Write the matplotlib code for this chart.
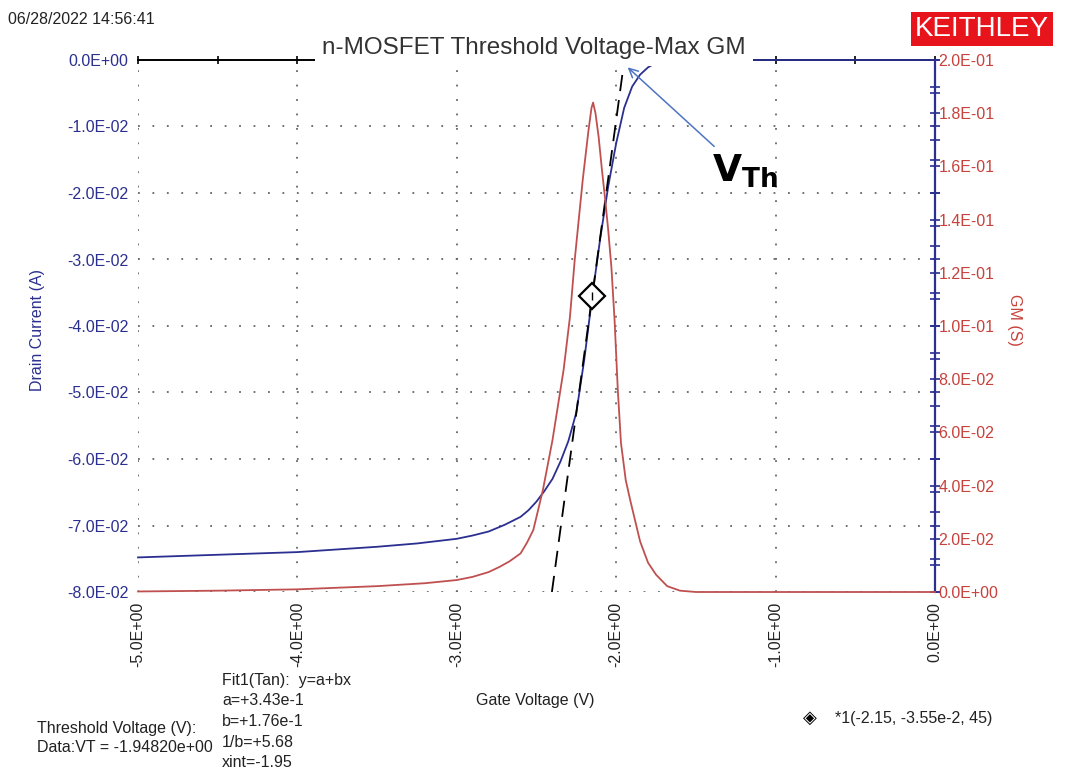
import matplotlib
matplotlib.use('Agg')
import matplotlib.pyplot as plt
from matplotlib.ticker import MultipleLocator, FuncFormatter

# ---------------- data ----------------
gate_v_id = [-5.0, -4.5, -4.0, -3.5, -3.25, -3.0, -2.9, -2.8, -2.7, -2.6, -2.55,
             -2.5, -2.45, -2.4, -2.35, -2.3, -2.25, -2.2, -2.15, -2.1, -2.05, -2.0,
             -1.95, -1.9, -1.85, -1.8, -1.75, -1.72, -1.65, -1.5, -1.0, -0.5, 0.0]
drain_i = [-0.0748, -0.0744, -0.0740, -0.0732, -0.0727, -0.0720, -0.0715, -0.0709,
           -0.0699, -0.0687, -0.0677, -0.0664, -0.0648, -0.0630, -0.0604, -0.0573,
           -0.0530, -0.0450, -0.0355, -0.0268, -0.0190, -0.0125, -0.0072, -0.0040,
           -0.0022, -0.0011, -0.0004, -0.0002, -0.0001, 0.0, 0.0, 0.0, 0.0]

gate_v_gm = [-5.0, -4.5, -4.0, -3.5, -3.2, -3.0, -2.9, -2.8, -2.73, -2.67, -2.6,
             -2.56, -2.52, -2.46, -2.4, -2.33, -2.29, -2.26, -2.21, -2.175, -2.155,
             -2.145, -2.13, -2.11, -2.09, -2.07, -2.05, -2.03, -2.01, -1.99, -1.97,
             -1.94, -1.91, -1.85, -1.80, -1.75, -1.68, -1.60, -1.50, -1.0, -0.5, 0.0]
gm = [0.0002, 0.0005, 0.0010, 0.0022, 0.0033, 0.0045, 0.0057, 0.0075, 0.0095, 0.0115,
      0.0145, 0.0185, 0.0233, 0.0383, 0.0570, 0.0835, 0.1035, 0.1250, 0.1549, 0.1730,
      0.1820, 0.1840, 0.1800, 0.1710, 0.1590, 0.1480, 0.1360, 0.1220, 0.1020, 0.0760,
      0.0560, 0.0420, 0.0340, 0.0190, 0.0110, 0.0065, 0.0022, 0.0005, 0.0, 0.0, 0.0,
      0.0]

fit_a = 0.343
fit_b = 0.176
marker_v = -2.15
marker_i = -0.0355
vt_value = -1.94820

title = "n-MOSFET Threshold Voltage-Max GM"
date_text = "06/28/2022 14:56:41"

# ---------------- style ----------------
plt.rcParams['font.family'] = ['Liberation Sans', 'DejaVu Sans']
plt.rcParams['mathtext.fontset'] = 'dejavusans'
BLUE = '#2b2f8f'
RED_LINE = '#c05050'
RED_TXT = '#c8413b'
GRID = '#666666'
TXT = '#222222'

W, H = 1065, 774
fig = plt.figure(figsize=(W / 100, H / 100), dpi=100)
ax = fig.add_axes([138 / W, 1 - 592 / H, (935 - 138) / W, (592 - 60) / H])
ax2 = ax.twinx()

ax.set_xlim(-5, 0)
ax.set_ylim(-0.08, 0)
ax2.set_ylim(0, 0.2)

def efmt(v, pos=None):
    v = v + 0.0
    if abs(v) < 1e-12:
        v = 0.0
    return '{:.1E}'.format(v)

# spines
for s in ['left', 'bottom', 'right']:
    ax.spines[s].set_visible(False)
ax.spines['top'].set_color('black')
ax.spines['top'].set_linewidth(1.4)
for s in ['left', 'bottom', 'top']:
    ax2.spines[s].set_visible(False)
ax2.spines['right'].set_color(BLUE)
ax2.spines['right'].set_linewidth(1.6)

# x axis ticks
ax.xaxis.set_major_locator(MultipleLocator(1.0))
ax.xaxis.set_minor_locator(MultipleLocator(0.5))
ax.xaxis.set_major_formatter(FuncFormatter(efmt))
ax.tick_params(axis='x', which='both', bottom=False, top=True, labelbottom=True,
               labeltop=False, direction='inout', length=6, width=1.2, color='black')
ax.tick_params(axis='x', which='major', labelsize=11.5, labelcolor=TXT, pad=4,
               labelrotation=90)

# left y axis
ax.yaxis.set_major_locator(MultipleLocator(0.01))
ax.yaxis.set_minor_locator(MultipleLocator(0.005))
ax.yaxis.set_major_formatter(FuncFormatter(efmt))
ax.tick_params(axis='y', which='both', left=False, right=True, labelleft=True,
               labelright=False, direction='inout', length=7, width=1.2, color=BLUE)
ax.tick_params(axis='y', which='major', labelsize=11.5, labelcolor=BLUE, pad=3.5)

# right y axis
ax2.yaxis.set_major_locator(MultipleLocator(0.02))
ax2.yaxis.set_minor_locator(MultipleLocator(0.01))
ax2.yaxis.set_major_formatter(FuncFormatter(efmt))
ax2.tick_params(axis='y', which='both', direction='inout', length=7, width=1.2,
                color=BLUE)
ax2.tick_params(axis='y', which='major', labelsize=11.5, labelcolor=RED_TXT, pad=-1)

# grid
ax.grid(True, which='major', linestyle=(0, (1, 7)), color=GRID, linewidth=1.3)

# curves
ax.plot(gate_v_id, drain_i, color=BLUE, lw=1.3, clip_on=False, zorder=3)
ax2.plot(gate_v_gm, gm, color=RED_LINE, lw=1.3, clip_on=False, zorder=3)

# tangent fit line
x0 = (-0.08 - fit_a) / fit_b
x1 = (0.0 - fit_a) / fit_b
ax.plot([x0, x1], [fit_a + fit_b * x0, fit_a + fit_b * x1], color='black',
        lw=1.3, linestyle=(0, (9, 5)), zorder=4)
ax.plot([marker_v], [marker_i], marker='D', markersize=13, markerfacecolor='white',
        markeredgecolor='black', markeredgewidth=1.6, zorder=6)
ax.plot([marker_v], [marker_i], marker='|', markersize=6, color='black',
        markeredgewidth=1.0, zorder=7)

# V_Th annotation
ax.annotate('', xy=(vt_value + 0.02, -0.0011), xytext=(-1.385, -0.0130),
            arrowprops=dict(arrowstyle='->', color='#4f74c4', lw=1.1,
                            mutation_scale=16, shrinkA=0, shrinkB=0), zorder=8)
ax.text(-1.40, -0.01835, r'$\mathbf{V_{Th}}$', fontsize=27, color='black',
        ha='left', va='baseline', zorder=8)

# labels
ax.set_ylabel('Drain Current (A)', color=BLUE, fontsize=11.5, labelpad=8)
ax.yaxis.set_label_coords((45 - 138) / (935 - 138), (592 - 330) / (592 - 60))
ax2.set_ylabel('GM (S)', color=RED_TXT, fontsize=11.5, rotation=270)
ax2.yaxis.set_label_coords((1022 - 138) / (935 - 138), (592 - 320) / (592 - 60))
fig.text(535 / W, 1 - 700 / H, 'Gate Voltage (V)', ha='center', va='center',
         fontsize=11.5, color=TXT)

# title covering top line
fig.text(534 / W, 1 - 48 / H, title, ha='center', va='center', fontsize=17.5,
         color='#333333', zorder=10,
         bbox=dict(facecolor='white', edgecolor='none', pad=5))

fig.text(8 / W, 1 - 20 / H, date_text, ha='left', va='center', fontsize=11.5,
         color=TXT)
fig.text(982 / W, 1 - 29 / H, 'KEITHLEY', ha='center', va='center', fontsize=20,
         color='white',
         bbox=dict(facecolor='#e8141c', edgecolor='none', boxstyle='square,pad=0.16'))

# info texts
fig.text(37 / W, 1 - 728 / H, 'Threshold Voltage (V):', ha='left', va='center',
         fontsize=11.5, color=TXT)
fig.text(37 / W, 1 - 747 / H, 'Data:VT = {:.5e}'.format(vt_value), ha='left',
         va='center', fontsize=11.5, color=TXT)
fit_lines = ['Fit1(Tan):  y=a+bx', 'a=+{:.2e}'.format(fit_a).replace('e-01', 'e-1'),
             'b=+{:.2e}'.format(fit_b).replace('e-01', 'e-1'),
             '1/b=+{:.2f}'.format(1 / fit_b), 'xint={:.2f}'.format(x1)]
for i, t in enumerate(fit_lines):
    fig.text(222 / W, 1 - (680 + i * 20.7) / H, t, ha='left', va='center',
             fontsize=11.5, color=TXT, zorder=9,
             bbox=dict(facecolor='white', edgecolor='none', pad=0) if i >= 3 else None)

fig.text(810 / W, 1 - 718 / H, '\u25c8', ha='center', va='center', fontsize=13,
         color='black')
fig.text(835 / W, 1 - 718 / H,
         '*1({:.2f}, {:.2e}, 45)'.format(marker_v, marker_i).replace('e-02', 'e-2'),
         ha='left', va='center', fontsize=11.5, color=TXT)

fig.savefig('out.png', dpi=100)
